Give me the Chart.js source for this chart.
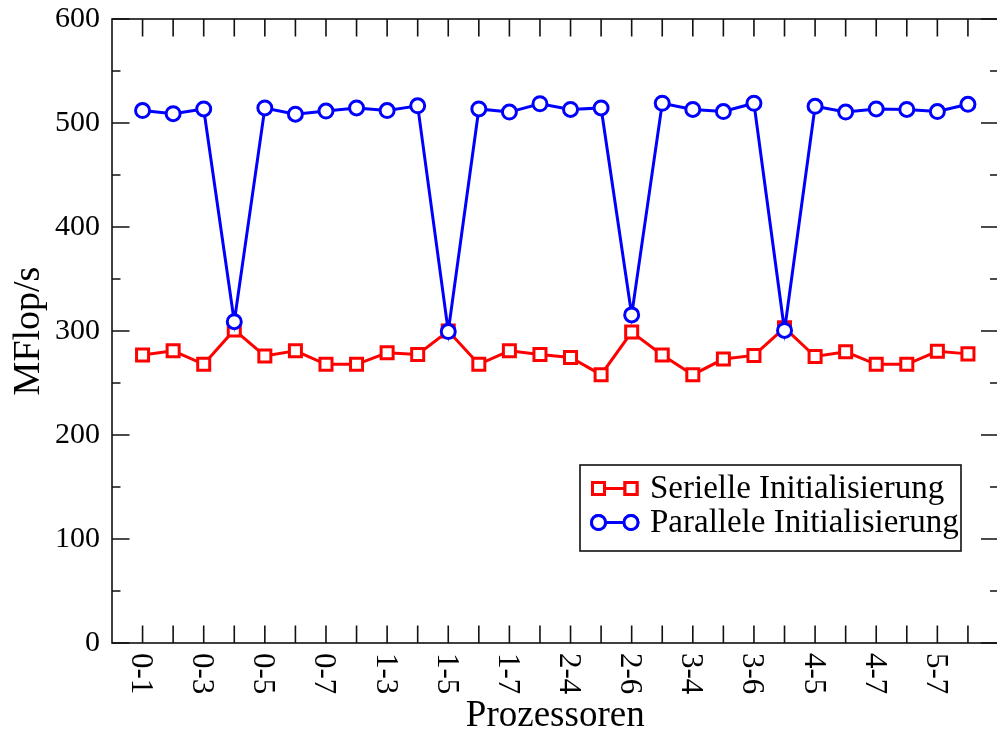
<!DOCTYPE html>
<html>
<head>
<meta charset="utf-8">
<title>MFlop/s</title>
<script src="https://cdn.jsdelivr.net/npm/chart.js@4.4.1/dist/chart.umd.min.js"></script>
<style>
  html, body { margin: 0; padding: 0; background: #fff; overflow: hidden; }
  #wrap { width: 1010px; height: 735px; }
  canvas { display: block; }
</style>
</head>
<body>
<div id="wrap"><canvas id="chart" width="1010" height="735"></canvas></div>
<script>
// processor pairs, x axis
const pairs = [
  "0-1","0-2","0-3","0-4","0-5","0-6","0-7",
  "1-2","1-3","1-4","1-5","1-6","1-7",
  "2-3","2-4","2-5","2-6","2-7",
  "3-4","3-5","3-6","3-7",
  "4-5","4-6","4-7",
  "5-6","5-7",
  "6-7"
];

// MFlop/s, serial initialisation
const serialValues = [
  277, 281, 268, 301, 276, 281, 268,
  268, 279, 277.5, 300, 268, 281,
  277.5, 274.5, 258, 299, 277,
  258, 273, 276.5, 303,
  275.5, 280, 268,
  268, 280.5,
  278
];

// MFlop/s, parallel initialisation
const parallelValues = [
  512, 509, 513.5, 309, 514.5, 508.5, 511.5,
  514.5, 512, 516.5, 299.5, 513.5, 510.5,
  518.5, 513, 514.5, 315.5, 519,
  513, 511, 519, 300.5,
  516, 510.5, 513.5,
  513, 511,
  518
];

const yTicks = [0, 100, 200, 300, 400, 500, 600];

const serifFont = "'Liberation Serif', 'DejaVu Serif', serif";

function toPoints(values){
    return values.map((v, i) => ({ x: i + 1, y: v }));
}

const framePlugin = {
    id: "frame",

    beforeDatasetsDraw(chart){

        const ctx = chart.ctx;
        const area = chart.chartArea;
        const xs = chart.scales.x;
        const ys = chart.scales.y;

        ctx.save();
        ctx.strokeStyle = "#111";
        ctx.lineWidth = 1.6;
        ctx.strokeRect(area.left, area.top, area.right - area.left, area.bottom - area.top);

        ctx.beginPath();
        // inward ticks top and bottom
        pairs.forEach((p, i) => {
            const px = xs.getPixelForValue(i + 1);
            ctx.moveTo(px, area.bottom);
            ctx.lineTo(px, area.bottom - 17.5);
            ctx.moveTo(px, area.top);
            ctx.lineTo(px, area.top + 17.5);
        });
        // inward ticks left and right, minor every 50
        for(let v = yTicks[0]; v <= yTicks[yTicks.length - 1]; v += 50){
            const py = ys.getPixelForValue(v);
            const len = v % 100 === 0 ? 17.5 : 8.5;
            ctx.moveTo(area.left, py);
            ctx.lineTo(area.left + len, py);
            ctx.moveTo(area.right, py);
            ctx.lineTo(area.right - len, py);
        }
        ctx.stroke();

        // x labels, every second pair, turned clockwise
        ctx.fillStyle = "#000";
        ctx.font = "31px " + serifFont;
        ctx.textAlign = "left";
        ctx.textBaseline = "alphabetic";
        pairs.forEach((p, i) => {
            if(i % 2 !== 0) return;
            const px = xs.getPixelForValue(i + 1);
            ctx.save();
            ctx.translate(px, area.bottom + 10);
            ctx.rotate(Math.PI / 2);
            ctx.fillText(p, 0, 10.5);
            ctx.restore();
        });

        ctx.restore();
    },

    afterDraw(chart){

        const ctx = chart.ctx;
        const box = { left: 580, top: 465, width: 381, height: 86 };

        ctx.save();
        ctx.fillStyle = "#fff";
        ctx.fillRect(box.left, box.top, box.width, box.height);
        ctx.strokeStyle = "#111";
        ctx.lineWidth = 1.6;
        ctx.strokeRect(box.left, box.top, box.width, box.height);

        const rows = [488.5, 522.5];

        chart.data.datasets.forEach((ds, i) => {
            const cy = rows[i];
            ctx.strokeStyle = ds.borderColor;
            ctx.lineWidth = ds.borderWidth;
            ctx.beginPath();
            ctx.moveTo(598.5, cy);
            ctx.lineTo(631, cy);
            ctx.stroke();

            [598.5, 631].forEach(cx => {
                Chart.helpers.drawPoint(ctx, {
                    pointStyle: ds.pointStyle,
                    radius: ds.pointRadius,
                    borderWidth: ds.pointBorderWidth,
                    rotation: 0
                }, cx, cy);
                ctx.fillStyle = "#fff";
                ctx.strokeStyle = ds.borderColor;
                ctx.lineWidth = ds.pointBorderWidth;
                ctx.fill();
                ctx.stroke();
            });

            ctx.fillStyle = "#000";
            ctx.font = "33px " + serifFont;
            ctx.textAlign = "left";
            ctx.textBaseline = "alphabetic";
            ctx.fillText(ds.label, 650, cy + 9);
        });

        ctx.restore();
    }
};

new Chart(document.getElementById("chart"), {
    type: "line",
    data: {
        datasets: [
            {
                label: "Serielle Initialisierung",
                data: toPoints(serialValues),
                borderColor: "#ff0000",
                backgroundColor: "#ffffff",
                borderWidth: 3,
                pointStyle: "rect",
                pointRadius: 8.5,
                pointBorderWidth: 3,
                pointBackgroundColor: "#ffffff",
                tension: 0,
                order: 2
            },
            {
                label: "Parallele Initialisierung",
                data: toPoints(parallelValues),
                borderColor: "#0000ff",
                backgroundColor: "#ffffff",
                borderWidth: 3,
                pointStyle: "circle",
                pointRadius: 7,
                pointBorderWidth: 3,
                pointBackgroundColor: "#ffffff",
                tension: 0,
                order: 1
            }
        ]
    },
    options: {
        responsive: false,
        animation: false,
        layout: { padding: { top: 19, right: 6, left: 0, bottom: 0 } },
        plugins: {
            legend: { display: false },
            tooltip: { enabled: false }
        },
        scales: {
            x: {
                type: "linear",
                min: 0,
                max: pairs.length + 1,
                grid: { display: false },
                border: { display: false },
                ticks: { display: false },
                title: {
                    display: true,
                    text: "Prozessoren",
                    color: "#000",
                    font: { family: serifFont, size: 37, lineHeight: 1 },
                    padding: { top: 0, bottom: 0 }
                },
                afterFit(scale){
                    scale.height = 92;
                    scale.paddingLeft = 0;
                    scale.paddingRight = 0;
                }
            },
            y: {
                min: yTicks[0],
                max: yTicks[yTicks.length - 1],
                grid: { display: false, drawTicks: false },
                border: { display: false },
                ticks: {
                    stepSize: 100,
                    padding: 12,
                    color: "#000",
                    font: { family: serifFont, size: 30 }
                },
                title: {
                    display: true,
                    text: "MFlop/s",
                    color: "#000",
                    font: { family: serifFont, size: 38, lineHeight: 1 },
                    padding: { top: 10, bottom: 0 }
                },
                afterFit(scale){
                    scale.width = 112;
                    scale.paddingTop = 0;
                    scale.paddingBottom = 0;
                }
            }
        }
    },
    plugins: [framePlugin]
});
</script>
</body>
</html>
